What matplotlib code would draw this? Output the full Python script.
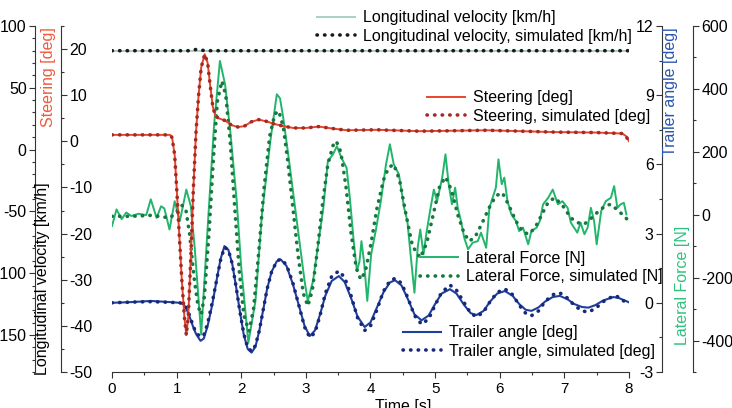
import matplotlib.pyplot as plt
from matplotlib.ticker import MultipleLocator

plt.rcParams['font.family'] = ['Liberation Sans', 'DejaVu Sans']
plt.rcParams['font.size'] = 11.5
plt.rcParams['axes.unicode_minus'] = False

# longitudinal velocity [km/h]
vel_t = [0.0, 1.2, 1.3, 1.45, 3.0, 6.0, 8.0]
vel = [80, 80, 80, 80, 80, 80, 80]
vel_sim = [80, 80, 81, 80, 80, 80, 80]

# steering [deg]
steer_t = [0.0, 0.5, 0.9, 0.93, 0.97, 1.0, 1.04, 1.08, 1.12, 1.15, 1.18, 1.22, 1.26,
           1.3, 1.34, 1.38, 1.435, 1.48, 1.52, 1.56, 1.6, 1.65, 1.75, 1.85, 1.95,
           2.05, 2.15, 2.27, 2.4, 2.5, 2.62, 2.8, 3.0, 3.2, 3.4, 3.63, 4.1, 4.76,
           5.3, 5.8, 6.85, 7.5, 7.89, 7.95, 8.0]
steer = [1.4, 1.4, 1.4, 0.8, -3, -10, -20, -30, -38, -42, -38, -25, -10,
         2, 10, 16, 18.9, 17, 12, 7.5, 5.5, 5.0, 4.5, 3.5, 3.1,
         3.3, 4.2, 4.7, 4.3, 3.8, 3.4, 2.9, 2.9, 3.2, 2.8, 2.4, 2.5, 2.2,
         2.3, 2.4, 2.0, 1.9, 1.7, 1.2, 0.0]
steer_sim = [1.4, 1.4, 1.4, 0.8, -3, -10, -20, -30, -38, -42, -38, -25, -10,
             2, 10, 16, 18.9, 17, 12, 7.5, 5.5, 5.0, 4.5, 3.5, 3.1,
             3.3, 4.2, 4.7, 4.3, 3.8, 3.4, 2.9, 2.9, 3.2, 2.8, 2.4, 2.5, 2.2,
             2.3, 2.4, 2.0, 1.9, 1.7, 1.2, 0.0]

# lateral force [N]
lat_t = [0.00, 0.07, 0.15, 0.22, 0.30, 0.41, 0.53, 0.60, 0.69, 0.76, 0.81, 0.89,
         0.97, 1.05, 1.15, 1.22, 1.28, 1.38, 1.48, 1.58, 1.67, 1.75, 1.83, 1.93,
         2.00, 2.11, 2.22, 2.32, 2.45, 2.55, 2.60, 2.65, 2.72, 2.80, 2.90, 2.98,
         3.03, 3.11, 3.19, 3.27, 3.34, 3.42, 3.48, 3.55, 3.63, 3.68, 3.74, 3.79,
         3.83, 3.86, 3.90, 3.95, 4.01, 4.08, 4.16, 4.24, 4.30, 4.36, 4.44, 4.52,
         4.57, 4.62, 4.68, 4.73, 4.77, 4.82, 4.87, 4.93, 4.98, 5.03, 5.11, 5.16,
         5.21, 5.26, 5.31, 5.35, 5.40, 5.45, 5.51, 5.58, 5.66, 5.71, 5.79, 5.84,
         5.89, 5.94, 5.98, 6.03, 6.07, 6.12, 6.18, 6.25, 6.30, 6.36, 6.44, 6.49,
         6.57, 6.62, 6.67, 6.75, 6.82, 6.90, 6.97, 7.05, 7.10, 7.15, 7.20, 7.25,
         7.31, 7.36, 7.41, 7.46, 7.50, 7.57, 7.64, 7.72, 7.77, 7.82, 7.87, 7.92,
         7.96]
lat = [-36, 17, -14, 7, -4, 3, -1, 49, -10, 27, 20, -47,
       43, -20, 80, 27, -105, -381, -41, 287, 489, 414, 266, 43,
       -169, -407, -274, 1, 234, 383, 370, 308, 202, 75, -84, -211,
       -274, -211, -94, 22, 171, 192, 218, 181, 149, 54, -84, -179,
       -148, -84, -150, -274, -126, -52, 43, 160, 224, 160, 128, 22,
       -20, -126, -248, -105, -47, -126, -52, 22, 80, 43, 118, 192,
       97, 33, 86, 22, -20, -73, -110, -89, -84, -57, -105, 22,
       54, 86, 176, 97, 118, 43, 1, -20, -52, -41, -94, -52,
       -41, -20, 33, 54, 80, 33, 43, 22, -25, -41, -57, -25,
       -62, -41, 22, -20, -94, 12, 43, 54, 91, 22, 33, 38,
       1]
lat_sim_t = [0.0, 0.3, 0.6, 0.9, 1.0, 1.08, 1.14, 1.2, 1.27, 1.33, 1.38, 1.43, 1.5,
             1.57, 1.63, 1.7, 1.76, 1.83, 1.9, 1.97, 2.04, 2.12, 2.19, 2.27, 2.35,
             2.44, 2.52, 2.58, 2.65, 2.72, 2.8, 2.88, 2.96, 3.03, 3.1, 3.18, 3.26,
             3.34, 3.42, 3.47, 3.54, 3.62, 3.7, 3.78, 3.85, 3.92, 4.0, 4.1, 4.2,
             4.28, 4.36, 4.45, 4.55, 4.65, 4.77, 4.87, 4.97, 5.07, 5.16, 5.25, 5.35,
             5.45, 5.53, 5.62, 5.72, 5.83, 5.94, 6.04, 6.14, 6.25, 6.36, 6.45, 6.55,
             6.65, 6.75, 6.85, 6.97, 7.1, 7.2, 7.31, 7.42, 7.55, 7.65, 7.72, 7.85,
             7.97]
lat_sim = [-5, -5, -2, -10, 10, 30, 20, -60, -200, -290, -317, -260, -60,
           180, 360, 425, 380, 230, 20, -180, -320, -370, -300, -120, 80,
           250, 320, 330, 280, 170, 20, -130, -250, -290, -240, -110, 40,
           160, 220, 234, 200, 90, -60, -170, -206, -180, -100, 20, 110,
           150, 160, 110, 0, -100, -137, -90, 0, 90, 120, 80, 0,
           -60, -84, -70, -30, 20, 60, 70, 30, -20, -55, -62, -40,
           0, 40, 54, 30, -10, -25, -30, -10, 15, 30, 33, 10,
           -14]

# trailer angle [deg]
tr_t = [0.0, 0.3, 0.6, 0.9, 1.05, 1.1, 1.15, 1.2, 1.25, 1.3, 1.37, 1.42, 1.48,
        1.55, 1.62, 1.68, 1.74, 1.8, 1.86, 1.92, 1.98, 2.04, 2.1, 2.16, 2.22,
        2.28, 2.34, 2.4, 2.47, 2.55, 2.61, 2.7, 2.8, 2.9, 2.98, 3.06, 3.14,
        3.22, 3.3, 3.4, 3.51, 3.6, 3.7, 3.8, 3.91, 4.0, 4.1, 4.2, 4.3,
        4.38, 4.48, 4.58, 4.68, 4.79, 4.9, 5.0, 5.1, 5.23, 5.33, 5.45, 5.55,
        5.64, 5.75, 5.85, 5.96, 6.08, 6.2, 6.3, 6.4, 6.49, 6.6, 6.7, 6.82,
        6.93, 7.05, 7.15, 7.27, 7.37, 7.48, 7.6, 7.76, 7.85, 7.95, 8.0]
tr = [0.0, 0.03, 0.08, 0.03, 0.0, -0.05, -0.25, -0.6, -1.0, -1.35, -1.65, -1.55, -1.0,
      -0.1, 1.0, 1.9, 2.46, 2.3, 1.7, 0.7, -0.4, -1.4, -2.0, -2.16, -1.9,
      -1.2, -0.3, 0.6, 1.35, 1.8, 1.88, 1.6, 0.8, -0.2, -1.0, -1.44, -1.2,
      -0.5, 0.3, 0.95, 1.16, 0.9, 0.2, -0.6, -1.05, -0.85, -0.2, 0.45, 0.88,
      0.98, 0.75, 0.15, -0.5, -0.76, -0.55, -0.05, 0.4, 0.59, 0.4, -0.1, -0.45,
      -0.53, -0.35, 0.05, 0.4, 0.51, 0.3, -0.05, -0.3, -0.35, -0.2, 0.05, 0.25,
      0.30, 0.15, -0.05, -0.18, -0.21, -0.1, 0.1, 0.25, 0.2, 0.08, 0.02]
tr_sim = [0.0, 0.03, 0.05, 0.02, 0.0, -0.05, -0.22, -0.55, -0.95, -1.3, -1.48, -1.4, -0.9,
          0.0, 1.0, 1.85, 2.4, 2.3, 1.7, 0.7, -0.4, -1.35, -1.95, -2.1, -1.85,
          -1.2, -0.3, 0.6, 1.35, 1.8, 1.9, 1.65, 0.85, -0.2, -1.05, -1.5, -1.3,
          -0.55, 0.4, 1.15, 1.38, 1.1, 0.3, -0.65, -1.2, -1.0, -0.3, 0.5, 0.95,
          1.06, 0.85, 0.2, -0.55, -0.93, -0.7, -0.1, 0.45, 0.77, 0.55, 0.0, -0.45,
          -0.61, -0.4, 0.05, 0.45, 0.6, 0.35, -0.1, -0.45, -0.56, -0.35, 0.05, 0.35,
          0.43, 0.2, -0.1, -0.35, -0.4, -0.25, 0.05, 0.3, 0.25, 0.0, -0.13]

W, H = 732, 408
L, R, B, T = 112, 629, 372, 26

red, red_dark = '#e8452c', '#a52a22'
green, green_dark = '#22b56c', '#17773f'
blue, blue_dark = '#1f3f9c', '#17287a'
vel_col = '#a9cfc6'
spine_col = '#333333'
dots = dict(linestyle=(0, (0.1, 2.0)), dash_capstyle='round', lw=2.6)

fig = plt.figure(figsize=(W / 100, H / 100), dpi=100)
ax = fig.add_axes([L / W, 1 - B / H, (R - L) / W, (B - T) / H])
ax.set_xlim(0, 8)
for s in ['left', 'right', 'top']:
    ax.spines[s].set_visible(False)
ax.spines['bottom'].set_color(spine_col)
ax.set_yticks([])
ax.xaxis.set_major_locator(MultipleLocator(1))
ax.xaxis.set_minor_locator(MultipleLocator(0.5))
ax.tick_params(axis='x', which='major', length=4, width=0.8, color=spine_col, labelsize=11, pad=3)
ax.tick_params(axis='x', which='minor', length=2.5, width=0.8, color=spine_col)
fig.text(375 / W, 1 - 399 / H, 'Time [s]', ha='left', va='top')


def side_axis(side, px, lim, major, minor):
    a = ax.twinx()
    for s in a.spines.values():
        s.set_visible(False)
    sp = a.spines[side]
    sp.set_visible(True)
    sp.set_position(('axes', (px - L) / (R - L)))
    sp.set_color(spine_col)
    if side == 'left':
        a.yaxis.tick_left()
    else:
        a.yaxis.tick_right()
    a.set_ylim(*lim)
    a.yaxis.set_major_locator(MultipleLocator(major))
    a.yaxis.set_minor_locator(MultipleLocator(minor))
    a.tick_params(axis='y', which='major', length=4, width=0.8, color=spine_col, labelsize=11.5, pad=2)
    a.tick_params(axis='y', which='minor', length=2.5, width=0.8, color=spine_col)
    return a


ax_f = side_axis('right', 693, (-500, 600), 200, 100)
ax_t = side_axis('left', 662, (-3, 12), 3, 1.5)
ax_s = side_axis('right', 61, (-50, 25), 10, 5)
ax_v = side_axis('left', 35, (-180, 100), 50, 10)

l1, = ax_f.plot(lat_t, lat, color=green, lw=1.4)
l2, = ax_f.plot(lat_sim_t, lat_sim, color=green_dark, **dots)
l3, = ax_t.plot(tr_t, tr, color=blue, lw=1.5)
l4, = ax_t.plot(tr_t, tr_sim, color=blue_dark, **dots)
l5, = ax_s.plot(steer_t, steer, color=red, lw=1.4)
l6, = ax_s.plot(steer_t, steer_sim, color=red_dark, **dots)
l7, = ax_v.plot(vel_t, vel, color=vel_col, lw=1.4)
l8, = ax_v.plot(vel_t, vel_sim, color='#1a1a1a', **dots)

leg_kw = dict(loc='center left', bbox_transform=fig.transFigure, frameon=False,
              borderpad=0, borderaxespad=0, handlelength=2.4, handletextpad=0.45,
              labelspacing=0.2, fontsize=11.5)
ax_v.legend([l7, l8], ['Longitudinal velocity [km/h]', 'Longitudinal velocity, simulated [km/h]'],
            bbox_to_anchor=(317 / W, 1 - 27 / H), **leg_kw)
ax_s.legend([l5, l6], ['Steering [deg]', 'Steering, simulated [deg]'],
            bbox_to_anchor=(427 / W, 1 - 107 / H), **leg_kw)
ax_f.legend([l1, l2], ['Lateral Force [N]', 'Lateral Force, simulated [N]'],
            bbox_to_anchor=(420 / W, 1 - 267.5 / H), **leg_kw)
ax_t.legend([l3, l4], ['Trailer angle [deg]', 'Trailer angle, simulated [deg]'],
            bbox_to_anchor=(403 / W, 1 - 342 / H), **leg_kw)

fig.text(43 / W, 1 - 375 / H, 'Longitudinal velocity [km/h]', rotation=90, ha='center', va='bottom')
fig.text(48 / W, 1 - 27 / H, 'Steering [deg]', color='#f05a3c', rotation=90, ha='center', va='top')
fig.text(670 / W, 1 - 27 / H, 'Trailer angle [deg]', color='#2a55b0', rotation=90, ha='center', va='top')
fig.text(683 / W, 1 - 345 / H, 'Lateral Force [N]', color='#2ec27e', rotation=90, ha='center', va='bottom')

fig.savefig('out.png', dpi=100)
